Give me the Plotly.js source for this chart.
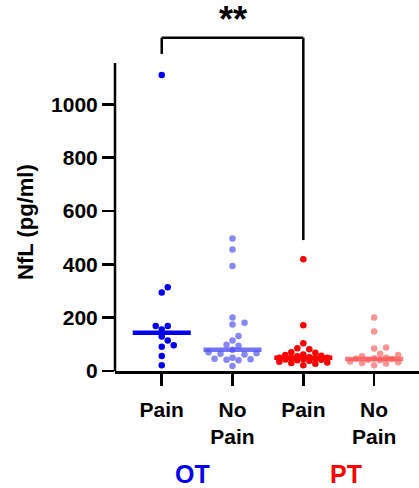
<!DOCTYPE html>
<html>
<head>
<meta charset="utf-8">
<script src="https://cdn.plot.ly/plotly-3.0.1.min.js"></script>
<style>html,body{margin:0;padding:0;background:#fff;}#chart{width:419px;height:488px;}</style>
</head>
<body>
<div id="chart"></div>
<script>
// ---- data ----
const categories = ['Pain', 'No<br>Pain', 'Pain', 'No<br>Pain'];
const groupLabels = ['OT', 'PT'];
const otPain   = [1110, 314, 294, 169, 169, 156, 129, 114, 97, 91, 56, 22];
const otNoPain = [497, 456, 394, 201, 181, 174, 131, 114, 98, 95, 80, 70, 67, 65, 62, 50, 46, 44, 42, 40, 19];
const ptPain   = [419, 172, 104, 85, 82, 70, 68, 62, 60, 57, 55, 52, 50, 50, 48, 46, 45, 43, 42, 40, 38, 35, 32, 30, 27, 22];
const ptNoPain = [201, 148, 88, 84, 65, 60, 55, 50, 48, 46, 45, 42, 40, 36, 33, 30, 28, 22];
const medians  = [143, 80, 50, 45];
const yTicks   = [0, 200, 400, 600, 800, 1000];

// ---- layout geometry ----
const W = 419, H = 488;
const M = {l: 115, r: 0, t: 27, b: 117};
const yRange = [0, 1290];
const xRange = [-0.66, 3.634];
const plotW = W - M.l - M.r, plotH = H - M.t - M.b;
const pxX = plotW / (xRange[1] - xRange[0]);
const pxY = plotH / (yRange[1] - yRange[0]);

const series = [otPain, otNoPain, ptPain, ptNoPain];
const dotColors = ['rgb(0,0,238)', 'rgba(80,80,240,0.68)', 'rgb(255,0,0)', 'rgba(252,80,80,0.62)'];
const lineColors = ['rgb(0,0,238)', 'rgba(80,80,240,0.8)', 'rgb(255,0,0)', 'rgba(252,80,80,0.75)'];

// beeswarm computed in pixel space, limited in width (dots overlap when crowded)
function swarm(vals, center, step, diam, maxHalf) {
  const idx = vals.map((v, i) => i).sort((a, b) => vals[a] - vals[b]);
  const placed = [];
  const xs = new Array(vals.length);
  const cands = [0];
  for (let k = 1; k * step <= maxHalf; k++) { cands.push(k * step, -k * step); }
  idx.forEach(i => {
    const py = vals[i] * pxY;
    let best = 0, bestD = -1;
    for (const off of cands) {
      const d = placed.length ? Math.min(...placed.map(p => Math.hypot(p[0] - off, p[1] - py))) : Infinity;
      if (d >= diam) { best = off; bestD = Infinity; break; }
      if (d > bestD) { bestD = d; best = off; }
    }
    placed.push([best, py]);
    xs[i] = center + best / pxX;
  });
  return xs;
}

const traces = [];
series.forEach((vals, g) => {
  traces.push({
    type: 'scatter', mode: 'markers',
    x: swarm(vals, g, 6, 6.4, 28), y: vals,
    marker: {size: 6.5, color: dotColors[g], line: {width: 0}},
    cliponaxis: false, hoverinfo: 'y', showlegend: false
  });
});
medians.forEach((m, g) => {
  traces.push({
    type: 'scatter', mode: 'lines',
    x: [g - 0.41, g + 0.41], y: [m, m],
    line: {color: lineColors[g], width: 4.5},
    hoverinfo: 'skip', showlegend: false
  });
});

const FONT = 'Liberation Sans, Arial, Helvetica, sans-serif';
const layout = {
  width: W, height: H,
  margin: M,
  paper_bgcolor: '#fff', plot_bgcolor: '#fff',
  showlegend: false,
  xaxis: {
    range: xRange, showgrid: false, zeroline: false,
    showline: true, linecolor: '#000', linewidth: 2.5,
    tickmode: 'array', tickvals: [0, 1, 2, 3], ticktext: categories,
    ticks: 'outside', ticklen: 12, tickwidth: 2.5, tickcolor: '#000',
    ticklabelstandoff: 6,
    tickfont: {family: FONT, size: 21, color: '#000', weight: 'bold'},
    fixedrange: true
  },
  yaxis: {
    range: yRange, showgrid: false, zeroline: false, showline: false,
    tickmode: 'array', tickvals: yTicks, ticktext: yTicks.map(String),
    ticks: 'outside', ticklen: 12, tickwidth: 2.5, tickcolor: '#000',
    tickfont: {family: FONT, size: 21, color: '#000', weight: 'bold'},
    fixedrange: true
  },
  shapes: [
    {type: 'line', xref: 'paper', yref: 'y', x0: 0, x1: 0, y0: 0, y1: 1155, line: {color: '#000', width: 2.5}},
    {type: 'line', xref: 'x', yref: 'y', x0: 0, x1: 0, y0: 1189, y1: 1250, line: {color: '#000', width: 2.5}},
    {type: 'line', xref: 'x', yref: 'y', x0: 0, x1: 2, y0: 1250, y1: 1250, line: {color: '#000', width: 2.5}},
    {type: 'line', xref: 'x', yref: 'y', x0: 2, x1: 2, y0: 491, y1: 1250, line: {color: '#000', width: 2.5}}
  ],
  annotations: [
    {text: '**', xref: 'x', yref: 'y', x: 1, y: 1250, yanchor: 'bottom', yshift: -4, showarrow: false,
     font: {family: FONT, size: 36, color: '#000', weight: 'bold'}},
    {text: 'NfL (pg/ml)', xref: 'paper', yref: 'y', x: 0, xshift: -89, y: 559, textangle: -90,
     xanchor: 'center', yanchor: 'middle', showarrow: false,
     font: {family: FONT, size: 22, color: '#000', weight: 'bold'}},
    {text: groupLabels[0], xref: 'x', yref: 'paper', x: 0.43, y: (371 - 474) / plotH, xanchor: 'center', yanchor: 'middle',
     showarrow: false, font: {family: FONT, size: 25, color: 'rgb(0,0,238)', weight: 'bold'}},
    {text: groupLabels[1], xref: 'x', yref: 'paper', x: 2.6, y: (371 - 474) / plotH, xanchor: 'center', yanchor: 'middle',
     showarrow: false, font: {family: FONT, size: 25, color: 'rgb(255,0,0)', weight: 'bold'}}
  ]
};

Plotly.newPlot('chart', traces, layout, {staticPlot: true, displayModeBar: false});
</script>
</body>
</html>
